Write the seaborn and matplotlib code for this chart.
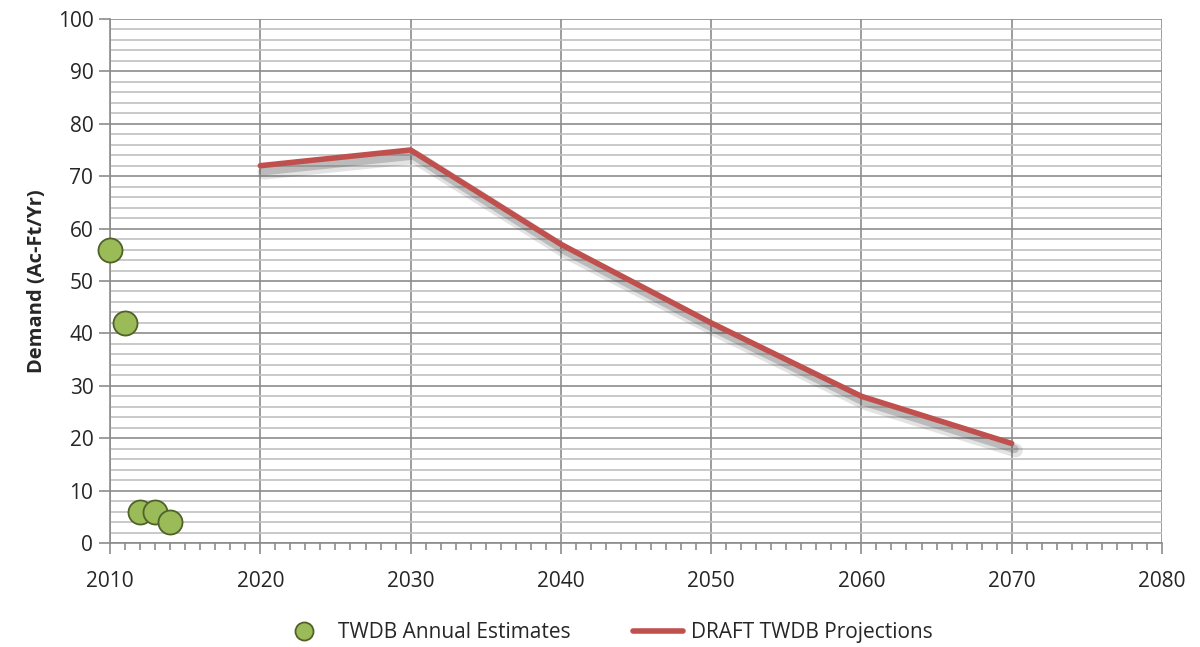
import matplotlib
matplotlib.use("Agg")
import matplotlib.pyplot as plt
import matplotlib.patheffects as pe
from matplotlib.ticker import MultipleLocator
from matplotlib.lines import Line2D
import pandas as pd
import seaborn as sns

# TWDB annual estimates
est_years = [2010, 2011, 2012, 2013, 2014]
est_values = [56, 42, 6, 6, 4]

# DRAFT TWDB projections
proj_years = [2020, 2030, 2040, 2050, 2060, 2070]
proj_values = [72, 75, 57, 42, 28, 19]

est_df = pd.DataFrame({"Year": est_years, "Demand": est_values})
proj_df = pd.DataFrame({"Year": proj_years, "Demand": proj_values})

sns.set_style("white")
plt.rcParams["font.family"] = ["Open Sans", "DejaVu Sans"]

fig = plt.figure(figsize=(12, 6.47), dpi=100)
ax = fig.add_axes([0.0917, 0.1607, 0.8766, 0.81])

grid_c = "#8c8c8c"
minor_c = "#c0c0c0"

# 线条（带阴影）
sns.lineplot(data=proj_df, x="Year", y="Demand", ax=ax, color="#C0504D", linewidth=4,
             solid_capstyle="round", zorder=4,
             path_effects=[pe.SimpleLineShadow(offset=(3, -5), shadow_color="#444444", alpha=0.15, linewidth=10),
                           pe.SimpleLineShadow(offset=(2, -4), shadow_color="#444444", alpha=0.25, linewidth=6),
                           pe.Normal()])

# 散点
sns.scatterplot(data=est_df, x="Year", y="Demand", ax=ax, color="#9BBB59", edgecolor="#4F6228",
                linewidth=1.3, s=300, zorder=5, clip_on=False)

ax.set_xlim(2010, 2080)
ax.set_ylim(0, 100)
ax.xaxis.set_major_locator(MultipleLocator(10))
ax.xaxis.set_minor_locator(MultipleLocator(1))
ax.yaxis.set_major_locator(MultipleLocator(10))
ax.yaxis.set_minor_locator(MultipleLocator(2))

ax.grid(which="major", axis="both", color=grid_c, linewidth=1.2)
ax.grid(which="minor", axis="y", color=minor_c, linewidth=1.2)
ax.set_axisbelow(True)

for side in ["top", "right"]:
    ax.spines[side].set_visible(False)
for side in ["left", "bottom"]:
    ax.spines[side].set_color(grid_c)
    ax.spines[side].set_linewidth(1.2)

ax.tick_params(axis="x", which="major", direction="out", length=8, width=1.2, color=grid_c,
               labelsize=15, pad=12, bottom=True)
ax.tick_params(axis="x", which="minor", direction="out", length=5, width=1.2, color=grid_c, bottom=True)
ax.tick_params(axis="y", which="major", direction="out", length=8, width=1.2, color=grid_c,
               labelsize=15, pad=4, left=True)
ax.tick_params(axis="y", which="minor", length=0)

ax.set_xlabel("")
ax.set_ylabel("Demand (Ac-Ft/Yr)", fontsize=14.5, fontweight="bold", labelpad=8)

handles = [
    Line2D([], [], marker="o", linestyle="none", markersize=13, markerfacecolor="#9BBB59",
           markeredgecolor="#4F6228", markeredgewidth=1.3),
    Line2D([], [], color="#C0504D", linewidth=4),
]
fig.legend(handles, ["TWDB Annual Estimates", "DRAFT TWDB Projections"], loc="center",
           bbox_to_anchor=(0.505, 0.022), ncol=2, frameon=False, fontsize=15,
           handlelength=2.4, columnspacing=3.0, handletextpad=0.4)

fig.savefig("out.png", dpi=100)
